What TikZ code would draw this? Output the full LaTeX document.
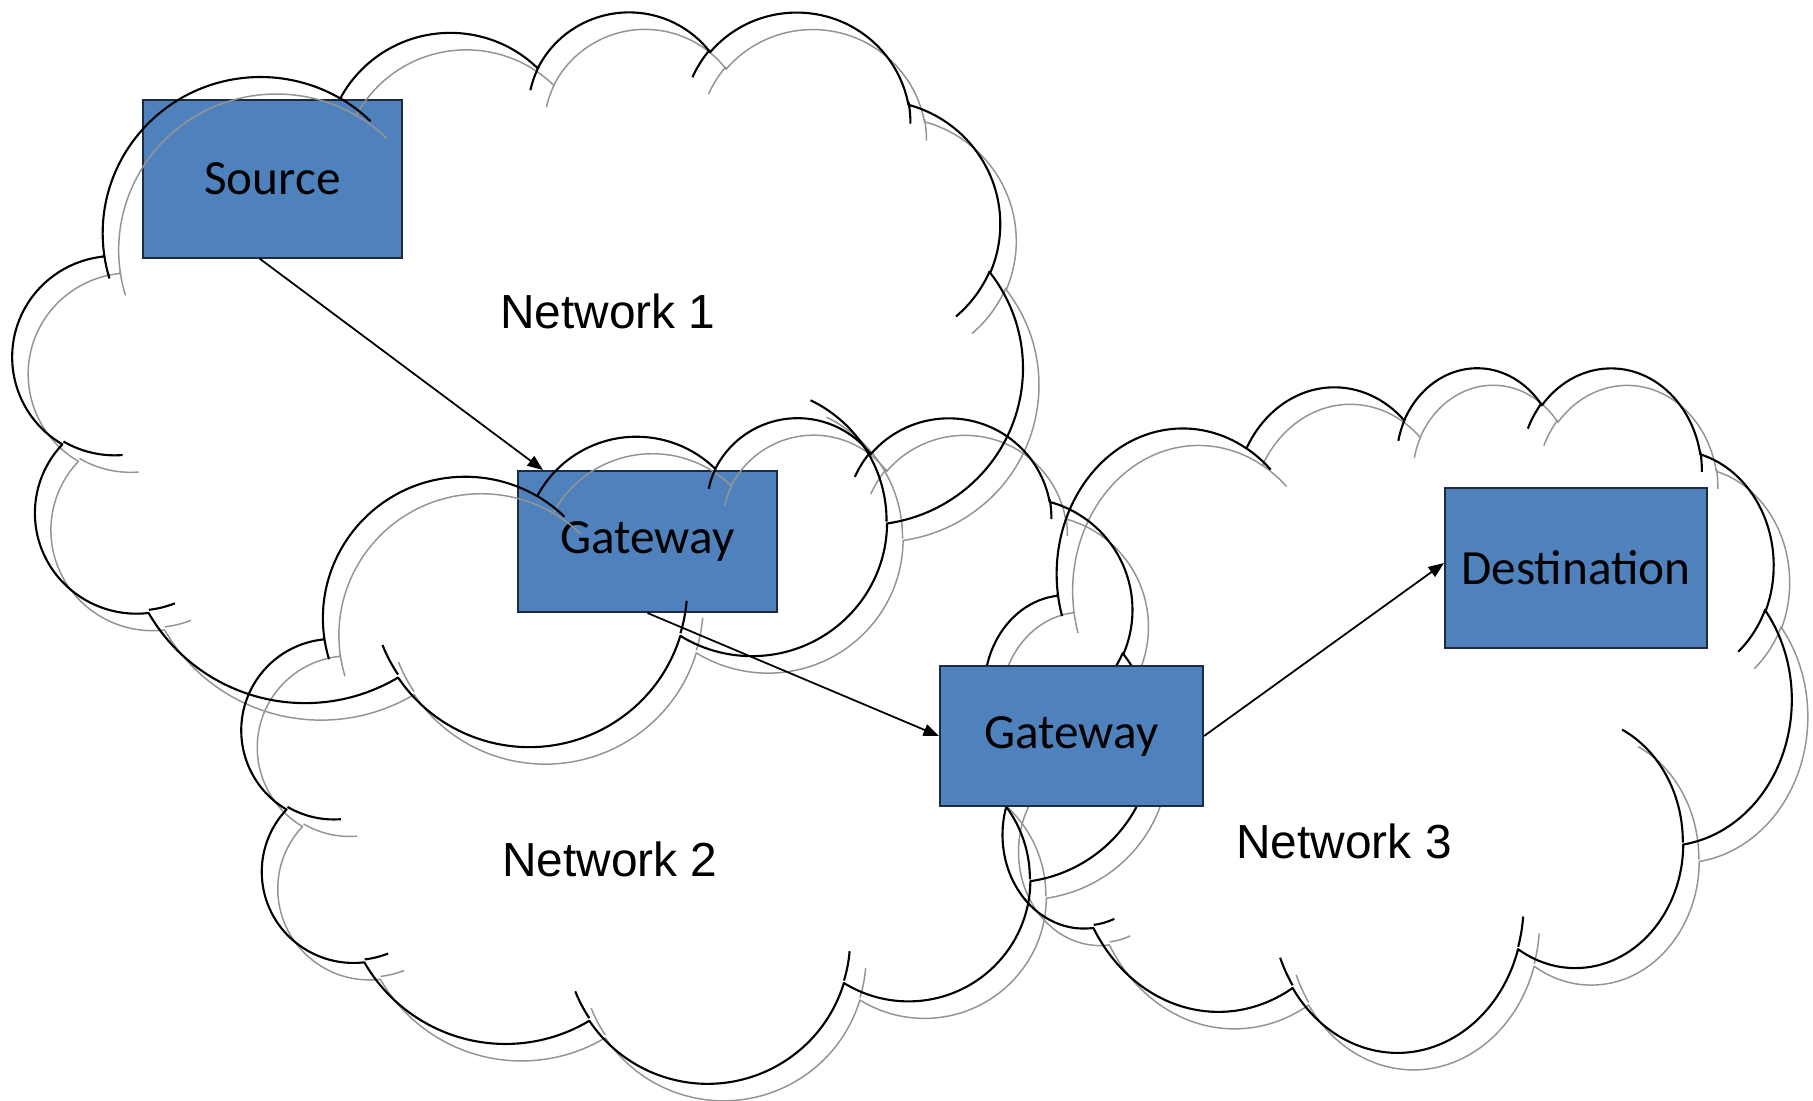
\documentclass[tikz,border=0pt]{standalone}
\usepackage{fontspec}
\setmainfont{Liberation Sans}
\newfontfamily\boxfont{Carlito}
\usetikzlibrary{arrows.meta,calc}

\definecolor{boxblue}{HTML}{4F81BD}
\definecolor{boxedge}{HTML}{1C2B3E}

\tikzstyle{netbox} = [draw=boxedge,fill=boxblue,line width=0.55pt,inner sep=0pt,font=\boxfont\fontsize{14}{17}\selectfont,text centered]
\tikzstyle{netlabel} = [font=\fontsize{13.6}{16}\selectfont,inner sep=0pt]
\tikzstyle{cloudline} = [draw=black,line width=0.6pt,line join=round]
\tikzstyle{cloudshadow} = [draw=black!42,line width=0.42pt,line join=round]
\tikzstyle{link} = [draw=black,line width=0.5pt,-{Triangle[length=4.4pt,width=3.4pt]}]

% one arc of the cloud: x radius, y radius, start angle, sweep (visual angles)
\newcommand\lobe[4]{%
  \pgfextra{%
    \pgfmathparse{atan2((#1)*sin(#3),(#2)*cos(#3))}\xdef\lobes{\pgfmathresult}%
    \pgfmathparse{atan2((#1)*sin((#3)+(#4)),(#2)*cos((#3)+(#4)))}\xdef\lobee{\pgfmathresult}%
    \pgfmathparse{\lobee-\lobes+360*(\lobee<\lobes)}\xdef\lobed{\pgfmathresult}%
  }
  arc[start angle=\lobes,delta angle=\lobed,x radius=#1,y radius=#2]}

% cloud outline and its inner strokes, frame 43.2 x 43.2
\newcommand\cloudpath{%
  (3.9,14.37) \lobe{6.753}{9.19}{-190.4875}{123.7805}
  \lobe{5.333}{7.267}{-144.1024}{89.9452}
  \lobe{4.365}{5.945}{-145.8079}{99.7230}
  \lobe{4.857}{6.595}{-130.9861}{117.2417}
  \lobe{5.333}{7.273}{-78.7089}{109.0269}
  \lobe{6.775}{9.22}{-46.2673}{130.2690}
  \lobe{5.785}{7.867}{0.6250}{114.0333}
  \lobe{6.752}{9.215}{22.4516}{115.1726}
  \lobe{7.72}{10.543}{66.2426}{75.7110}
  \lobe{4.36}{5.918}{-274.9421}{146.7356}
  \lobe{4.345}{5.945}{-246.8285}{152.5189} -- cycle
  (4.693,26.177) \lobe{4.345}{5.945}{86.742}{26.4295}
  (6.928,34.899) \lobe{4.36}{5.918}{73.6105}{11.4475}
  (16.478,39.09) \lobe{6.752}{9.215}{137.6242}{14.0811}
  (28.827,34.751) \lobe{6.752}{9.215}{6.4533}{15.9984}
  (34.129,22.954) \lobe{5.785}{7.867}{-70.2924}{70.9174}
  (41.798,15.354) \lobe{5.333}{7.273}{30.318}{27.7515}
  (38.324,5.426) \lobe{4.857}{6.595}{-13.7443}{14.8589}
  (29.078,3.952) \lobe{4.857}{6.595}{-149.1815}{18.1954}
  (22.141,4.72) \lobe{4.365}{5.945}{-163.4943}{17.6864}
  (14,5.192) \lobe{6.753}{9.19}{-66.707}{12.3194}
  (4.127,15.789) \lobe{6.753}{9.19}{157.6544}{11.8582}
}

% \netcloud{style}{left}{top}{width}{height} in px
\newcommand\netcloud[5]{%
  \pgfmathsetmacro\cloudw{#4/4320}%
  \pgfmathsetmacro\cloudh{#5/4320}%
  \begin{scope}[shift={(#2,#3)},x=\cloudw cm,y=-\cloudh cm]
    \draw[#1] \cloudpath;
  \end{scope}}

\begin{document}
\begin{tikzpicture}[x=0.01cm,y=-0.01cm]
	\fill[white] (0,0) rectangle (1813,1100);
	\useasboundingbox (0,0) rectangle (1813,1100);

	\node (src) [netbox,minimum width=2.59cm,minimum height=1.57cm] at (272.5,179) {Source};
	\node (gw1) [netbox,minimum width=2.59cm,minimum height=1.41cm] at (647.5,541.5) {Gateway};

	% shadows first, then the outlines
	\netcloud{cloudshadow}{13+16}{10+17}{1009}{734}
	\netcloud{cloudshadow}{242+16}{416+17}{910}{665}
	\netcloud{cloudshadow}{985+16}{366+17}{806}{684}
	\netcloud{cloudline}{13}{10}{1009}{734}
	\netcloud{cloudline}{242}{416}{910}{665}
	\netcloud{cloudline}{985}{366}{806}{684}

	\node (gw2) [netbox,minimum width=2.63cm,minimum height=1.40cm] at (1071.5,736) {Gateway};
	\node (dst) [netbox,minimum width=2.62cm,minimum height=1.60cm] at (1576,568) {Destination};

	\node (net1) [netlabel] at (608,311) {Network 1};
	\node (net2) [netlabel] at (610,859) {Network 2};
	\node (net3) [netlabel] at (1344,841) {Network 3};

	\draw [link] ($(src.south)+(-13,0)$) -- ($(gw1.north west)+(26,0)$);
	\draw [link] (gw1.south) -- (gw2.west);
	\draw [link] (gw2.east) -- ($(dst.west)+(0,-5)$);
\end{tikzpicture}
\end{document}
